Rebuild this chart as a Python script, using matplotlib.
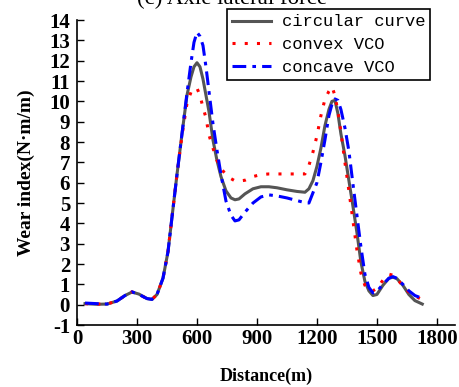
import matplotlib
matplotlib.use("Agg")
import matplotlib.pyplot as plt

plt.rcParams["axes.unicode_minus"] = False

distance = [40, 100, 150, 200, 240, 275, 310, 350, 375, 400, 430, 455, 475, 500, 525, 550,
            570, 585, 600, 615, 630, 645, 660, 680, 700, 720, 745, 770, 790, 810, 840, 880,
            920, 960, 1000, 1050, 1100, 1140, 1160, 1180, 1200, 1220, 1240, 1260, 1275, 1290,
            1305, 1320, 1340, 1360, 1380, 1400, 1420, 1440, 1460, 1480, 1500, 1530, 1560, 1580,
            1600, 1630, 1660, 1690, 1727]

circular = [0.05, 0.02, 0.03, 0.18, 0.45, 0.62, 0.52, 0.30, 0.26, 0.50, 1.30, 2.60, 4.30, 6.40, 8.40, 10.30,
            11.20, 11.70, 11.90, 11.70, 11.10, 10.30, 9.50, 8.10, 7.10, 6.30, 5.60, 5.25, 5.16, 5.20, 5.45, 5.70,
            5.80, 5.80, 5.75, 5.65, 5.57, 5.53, 5.70, 6.10, 6.80, 7.70, 8.80, 9.60, 10.00, 10.05,
            9.40, 8.40, 7.35, 6.10, 4.85, 3.55, 2.10, 1.15, 0.68, 0.45, 0.50, 0.95, 1.30, 1.35,
            1.28, 0.95, 0.50, 0.20, 0.03]

convex = [0.05, 0.03, 0.03, 0.18, 0.45, 0.63, 0.50, 0.30, 0.26, 0.50, 1.30, 2.60, 4.30, 6.40, 8.30, 9.90,
          10.45, 10.65, 10.65, 10.30, 9.70, 9.20, 8.35, 7.70, 7.10, 6.70, 6.40, 6.20, 6.09, 6.08, 6.12, 6.30,
          6.40, 6.43, 6.43, 6.43, 6.43, 6.43, 6.85, 7.50, 8.30, 9.30, 10.10, 10.50, 10.72, 10.30,
          9.50, 8.50, 7.00, 5.60, 4.15, 2.70, 1.55, 0.95, 0.70, 0.68, 0.80, 1.20, 1.50, 1.45,
          1.30, 0.90, 0.62, 0.42, 0.25]

concave = [0.08, 0.05, 0.03, 0.18, 0.45, 0.63, 0.50, 0.30, 0.26, 0.50, 1.30, 2.60, 4.30, 6.40, 8.40, 10.40,
           11.90, 12.90, 13.40, 13.20, 12.75, 11.70, 10.50, 8.90, 7.60, 6.40, 5.10, 4.40, 4.12, 4.17, 4.55, 5.00,
           5.30, 5.40, 5.35, 5.25, 5.12, 5.02, 5.00, 5.50, 6.00, 7.00, 8.10, 9.30, 9.85, 10.12,
           10.05, 9.60, 8.70, 7.55, 5.95, 4.40, 2.85, 1.50, 0.85, 0.58, 0.65, 1.00, 1.30, 1.38,
           1.30, 1.00, 0.68, 0.45, 0.31]

series_labels = ["circular curve", "convex VCO", "concave VCO"]
x_ticks = [0, 300, 600, 900, 1200, 1500, 1800]
y_ticks = list(range(-1, 15))

serif = ["Liberation Serif", "DejaVu Serif"]

fig = plt.figure(figsize=(4.59, 3.87), dpi=100)
ax = fig.add_axes([0.1678, 0.1602, 0.8232, 0.788])

ax.plot(distance, circular, color="#555555", lw=2.2, ls="-", label=series_labels[0])
ax.plot(distance, convex, color="#ff0000", lw=2.2, ls=(0, (1, 3)), label=series_labels[1])
ax.plot(distance, concave, color="#0000ff", lw=2.2, ls=(0, (4.5, 2, 1.2, 2)), label=series_labels[2])

ax.set_xlim(0, 1890)
ax.set_ylim(-1, 14)
ax.set_xticks(x_ticks)
ax.set_yticks(y_ticks)
ax.spines["top"].set_visible(False)
ax.spines["right"].set_visible(False)
for s in ("left", "bottom"):
    ax.spines[s].set_linewidth(1.2)
ax.tick_params(direction="in", length=5, width=1.0)
ax.tick_params(axis="y", pad=5)
ax.tick_params(axis="x", pad=3)
for lab in ax.get_xticklabels() + ax.get_yticklabels():
    lab.set_fontfamily(serif)
    lab.set_fontweight("bold")
    lab.set_fontsize(15)

ax.set_xlabel("Distance(m)", family=serif, fontweight="bold", fontsize=13, labelpad=13)
ax.set_ylabel("Wear index(N·m/m)", family=serif, fontweight="bold", fontsize=14, labelpad=10)

leg = ax.legend(loc="upper right", bbox_to_anchor=(0.935, 1.035), frameon=True, fancybox=False,
                edgecolor="black", framealpha=1.0, borderpad=0.3, handlelength=2.3,
                handletextpad=0.6, labelspacing=0.45, borderaxespad=0.0,
                prop={"family": "Liberation Mono", "size": 12.3})
leg.get_frame().set_linewidth(1.2)

fig.text(0.505, 0.99, "(c) Axle lateral force", family=serif, fontsize=16.5,
         ha="center", va="baseline")

fig.savefig("out.png", dpi=100)
